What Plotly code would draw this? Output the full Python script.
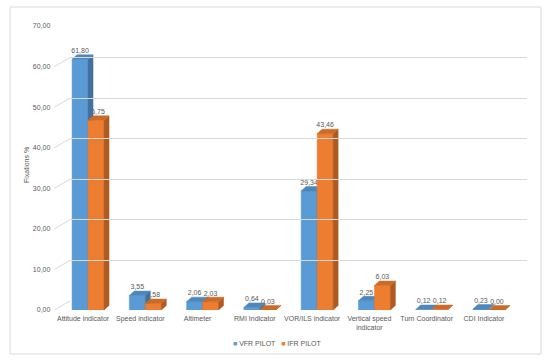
import plotly.graph_objects as go

categories = ["Attitude indicator", "Speed indicator", "Altimeter", "RMI Indicator",
              "VOR/ILS indicator", "Vertical speed<br>indicator", "Turn Coordinator", "CDI Indicator"]
vfr_values = [61.80, 3.55, 2.06, 0.64, 29.34, 2.25, 0.12, 0.23]
ifr_values = [46.75, 1.58, 2.03, 0.03, 43.46, 6.03, 0.12, 0.00]
y_ticks = [0, 10, 20, 30, 40, 50, 60, 70]
y_ticktext = ["0,00", "10,00", "20,00", "30,00", "40,00", "50,00", "60,00", "70,00"]
series_names = ["VFR PILOT", "IFR PILOT"]

W, H = 550, 364
FONT = "Liberation Sans, Arial, sans-serif"
FS = 7
TXT = "#595959"

# geometry (pixels -> paper)
front_x = (54.4 / W, 512.6 / W)
front_y = (1 - 310 / H, 1 - 26 / H)
back_x = (70 / W, 527 / W)
back_y = (1 - 301 / H, 1 - 17 / H)

px_per_unit_x = (512.6 - 54.4) / 8
px_per_unit_y = (310 - 26) / 70
DX = 5 / px_per_unit_x
DY = 4.5 / px_per_unit_y
BW = 16 / px_per_unit_x
SHIFT = 5 / px_per_unit_x

series = [
    (series_names[0], vfr_values, -1, "#5B9BD5", "#41719C", "#4F87BA"),
    (series_names[1], ifr_values, 0, "#ED7D31", "#AE5A21", "#CC6A28"),
]


def fmt(v):
    return f"{v:.2f}".replace(".", ",")


fig = go.Figure()

# data labels first (Excel draws them behind the 3D bars)
for name, vals, k, c_front, c_side, c_top in series:
    xs, ys, ts = [], [], []
    for i, v in enumerate(vals):
        xl = i + SHIFT + k * BW
        xs.append(xl + BW / 2)
        ys.append(v + DY)
        ts.append(fmt(v))
    fig.add_trace(go.Scatter(x=xs, y=ys, text=ts, mode="text", textposition="top center",
                             textfont=dict(size=FS, color=TXT, family=FONT),
                             showlegend=False, hoverinfo="skip", xaxis="x", yaxis="y"))

for name, vals, k, c_front, c_side, c_top in series:
    fx, fy, sx, sy, tx, ty = [], [], [], [], [], []
    for i, v in enumerate(vals):
        xl = i + SHIFT + k * BW
        xr = xl + BW
        fx += [xl, xr, xr, xl, xl, None]
        fy += [0, 0, v, v, 0, None]
        sx += [xr, xr + DX, xr + DX, xr, xr, None]
        sy += [0, DY, v + DY, v, 0, None]
        tx += [xl, xr, xr + DX, xl + DX, xl, None]
        ty += [v, v, v + DY, v + DY, v, None]
    for px, py, col in ((fx, fy, c_front), (sx, sy, c_side), (tx, ty, c_top)):
        fig.add_trace(go.Scatter(x=px, y=py, mode="lines", fill="toself", fillcolor=col,
                                 line=dict(color=col, width=0.5), showlegend=False,
                                 hoverinfo="skip", xaxis="x", yaxis="y"))

# back wall gridlines
fig.add_trace(go.Scatter(x=[None], y=[None], xaxis="x2", yaxis="y2", showlegend=False))

shapes = [dict(type="rect", xref="paper", yref="paper", x0=10 / W, x1=541 / W,
               y0=1 - 354 / H, y1=1 - 7 / H, line=dict(color="#d9d9d9", width=1), layer="below")]
for t in y_ticks:
    shapes.append(dict(type="line", xref="paper", yref="y", x0=front_x[0], x1=back_x[0],
                       y0=t, y1=t + 9 / px_per_unit_y, line=dict(color="#d9d9d9", width=1),
                       layer="below"))

legend_text = (f'<span style="color:{series[0][3]}">■</span> {series_names[0]}'
               f'&nbsp;&nbsp;&nbsp;<span style="color:{series[1][3]}">■</span> {series_names[1]}')

fig.update_layout(
    width=W, height=H,
    margin=dict(l=0, r=0, t=0, b=0, autoexpand=False),
    paper_bgcolor="white", plot_bgcolor="rgba(0,0,0,0)",
    font=dict(family=FONT, size=FS, color=TXT),
    showlegend=False,
    xaxis=dict(domain=list(front_x), range=[-0.5, 7.5], tickmode="array",
               tickvals=list(range(len(categories))), ticktext=categories, tickangle=0,
               showgrid=False, zeroline=False, showline=False, ticks="", automargin=False,
               tickfont=dict(size=FS, color=TXT), fixedrange=True, ticklabelstandoff=3),
    yaxis=dict(domain=list(front_y), range=[0, 70], tickmode="array", tickvals=y_ticks,
               ticktext=y_ticktext, showgrid=False, zeroline=False, showline=False,
               ticks="", automargin=False, tickfont=dict(size=FS, color=TXT),
               ticklabelstandoff=3, fixedrange=True),
    xaxis2=dict(domain=list(back_x), range=[0, 1], visible=False, fixedrange=True),
    yaxis2=dict(domain=list(back_y), range=[0, 70], anchor="x2", tickmode="array",
                tickvals=y_ticks, showticklabels=False, showgrid=True, fixedrange=True,
                gridcolor="#d9d9d9", gridwidth=1, zeroline=False, ticks=""),
    shapes=shapes,
    annotations=[
        dict(text="Fixations %", xref="paper", yref="paper", x=27 / W, y=1 - 165 / H,
             xanchor="center", yanchor="middle", textangle=-90, showarrow=False,
             font=dict(size=FS, color=TXT)),
        dict(text=legend_text, xref="paper", yref="paper", x=277 / W, y=1 - 343 / H,
             xanchor="center", yanchor="middle", showarrow=False,
             font=dict(size=FS, color=TXT)),
    ],
)

fig.write_html("out.html", config={"displayModeBar": False},
               post_script="document.body.style.margin='0';document.body.style.overflow='hidden';")
